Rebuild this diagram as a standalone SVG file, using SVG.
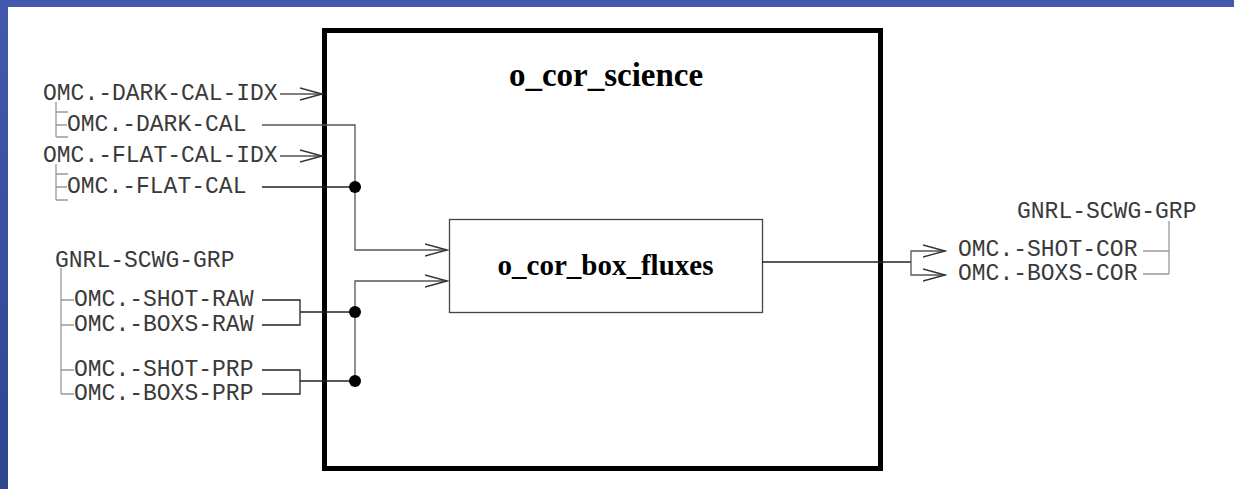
<svg xmlns="http://www.w3.org/2000/svg" width="1234" height="489" viewBox="0 0 1234 489">
<defs>
<linearGradient id="lb" x1="0" y1="0" x2="0" y2="1"><stop offset="0" stop-color="#4458AE"/><stop offset="1" stop-color="#2E4590"/></linearGradient>
<marker id="ah" markerWidth="24" markerHeight="14" refX="22" refY="7" orient="auto" markerUnits="userSpaceOnUse"><path d="M0,1 L22,7 L0,13" fill="none" stroke="#333" stroke-width="1.3"/></marker>
<style>
.m{font-family:"Liberation Mono","DejaVu Sans Mono",monospace;font-size:23px;fill:#3a3a3a}
.t{font-family:"Liberation Serif","Times New Roman",serif;font-weight:bold;fill:#000}
.tree{stroke:#999;stroke-width:1.3;fill:none}
.w{stroke:#222;stroke-width:1.3;fill:none}
.g{stroke:#555;stroke-width:1.3;fill:none}
</style>
</defs>
<rect width="1234" height="489" fill="#fff"/>
<rect x="0" y="0" width="1234" height="7" fill="#4458AE"/>
<rect x="0" y="0" width="8" height="489" fill="url(#lb)"/>

<g id="o_cor_science">
<rect x="324.5" y="30.5" width="556" height="438" fill="none" stroke="#000" stroke-width="5"/>
<text class="t" x="606" y="86" font-size="33" text-anchor="middle">o_cor_science</text>
</g>
<g id="o_cor_box_fluxes">
<rect x="449.5" y="219.5" width="313" height="93" fill="#fff" stroke="#444" stroke-width="1.3"/>
<text class="t" x="605.5" y="275" font-size="29" text-anchor="middle">o_cor_box_fluxes</text>
</g>

<g id="inputs-cal">
<text class="m" x="43" y="100">OMC.-DARK-CAL-IDX</text>
<text class="m" x="67" y="131">OMC.-DARK-CAL</text>
<text class="m" x="43" y="162">OMC.-FLAT-CAL-IDX</text>
<text class="m" x="67" y="193">OMC.-FLAT-CAL</text>
<path class="tree" d="M56,102 V137 M56,112 H68 M56,125 H67 M56,137 H68 M56,164 V200 M56,174 H68 M56,187 H67 M56,200 H68"/>
</g>
<g id="inputs-sci">
<text class="m" x="55" y="267">GNRL-SCWG-GRP</text>
<text class="m" x="74" y="306">OMC.-SHOT-RAW</text>
<text class="m" x="74" y="331">OMC.-BOXS-RAW</text>
<text class="m" x="74" y="376">OMC.-SHOT-PRP</text>
<text class="m" x="74" y="400">OMC.-BOXS-PRP</text>
<path class="tree" d="M61,268 V394 M61,300 H74 M61,325 H74 M61,370 H74 M61,394 H74"/>
</g>
<g id="outputs">
<text class="m" x="1017" y="218">GNRL-SCWG-GRP</text>
<text class="m" x="958" y="256">OMC.-SHOT-COR</text>
<text class="m" x="958" y="280">OMC.-BOXS-COR</text>
<path class="tree" d="M1169,221 V274 M1143,251 H1169 M1143,274 H1169"/>
</g>

<g id="connectors">
<path class="g" d="M280,94 H322" marker-end="url(#ah)"/>
<path class="g" d="M280,156 H322" marker-end="url(#ah)"/>
<path class="g" d="M262,125 H355 V250 H447" marker-end="url(#ah)"/>
<path class="w" d="M262,187 H355"/>
<path class="g" d="M355,381 V281 H447" marker-end="url(#ah)"/>
<path class="w" d="M262,300 H300 V325 H262 M300,312 H355"/>
<path class="w" d="M262,370 H300 V394 H262 M300,381 H355"/>
<path class="w" d="M762,262 H911"/>
<path class="g" d="M911,262 V251 H945" marker-end="url(#ah)"/>
<path class="g" d="M911,262 V275 H945" marker-end="url(#ah)"/>
<circle cx="355" cy="187" r="6" fill="#000"/>
<circle cx="355" cy="312" r="6" fill="#000"/>
<circle cx="355" cy="381" r="6" fill="#000"/>
</g>
</svg>
